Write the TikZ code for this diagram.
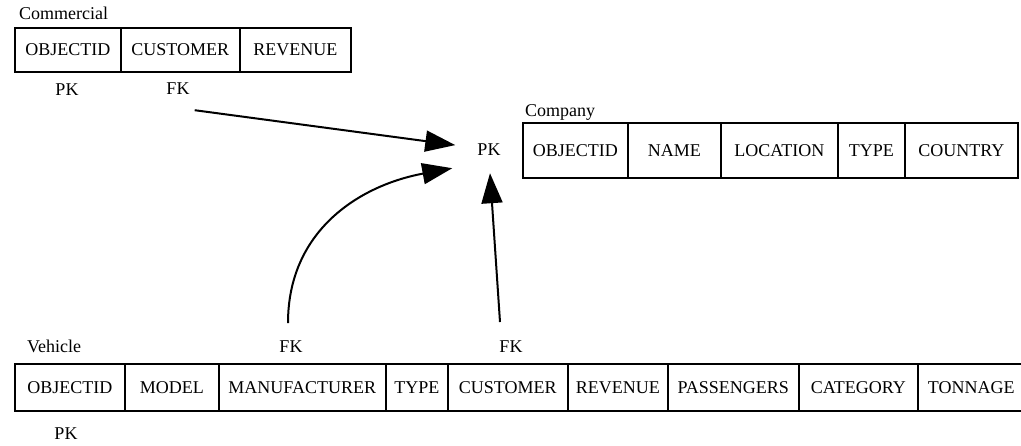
\documentclass[tikz,border=0pt]{standalone}
\usepackage{fontspec}
\setmainfont{Liberation Serif}
\usepackage{tikz}
\usetikzlibrary{arrows.meta}

\begin{document}
\begin{tikzpicture}[x=1pt,y=-1pt,
    font=\fontsize{18}{20}\selectfont,
    cell/.style={draw,line width=1.6pt,inner sep=0pt,anchor=north west,text height=12pt,text depth=0pt,minimum height=#1},
    cell/.default=44,
    keylab/.style={inner sep=0pt,anchor=base},
    tname/.style={inner sep=0pt,anchor=base west},
    fkarrow/.style={line width=2pt,-{Triangle[length=30pt,width=21pt]}}]
					\useasboundingbox (0,0) rectangle (1021,445);

					% Commercial
					\node[tname] (tCom) at (19,19) {Commercial};
					\node[cell,minimum width=106] (cObj) at (14,27) {OBJECTID};
					\node[cell,minimum width=119] (cCust) at (120,27) {CUSTOMER};
					\node[cell,minimum width=111] (cRev) at (239,27) {REVENUE};
					\node[keylab] (pkC) at (67,95) {PK};
					\node[keylab] (fkC) at (178,94) {FK};

					% Company
					\node[tname] (tCo) at (525,116) {Company};
					\node[cell=55,minimum width=105] (coObj) at (522,122) {OBJECTID};
					\node[cell=55,minimum width=93] (coName) at (627,122) {NAME};
					\node[cell=55,minimum width=117] (coLoc) at (720,122) {LOCATION};
					\node[cell=55,minimum width=67] (coType) at (837,122) {TYPE};
					\node[cell=55,minimum width=113] (coCtry) at (904,122) {COUNTRY};
					\node[keylab] (pkCo) at (489,155) {PK};

					% Vehicle
					\node[tname] (tVeh) at (27,352) {Vehicle};
					\node[cell=47,minimum width=110] (vObj) at (14,363) {OBJECTID};
					\node[cell=47,minimum width=94] (vMod) at (124,363) {MODEL};
					\node[cell=47,minimum width=167] (vMan) at (218,363) {MANUFACTURER};
					\node[cell=47,minimum width=62] (vType) at (385,363) {TYPE};
					\node[cell=47,minimum width=120] (vCust) at (447,363) {CUSTOMER};
					\node[cell=47,minimum width=100] (vRev) at (567,363) {REVENUE};
					\node[cell=47,minimum width=131] (vPass) at (667,363) {PASSENGERS};
					\node[cell=47,minimum width=119] (vCat) at (798,363) {CATEGORY};
					\node[cell=47,minimum width=107] (vTon) at (917,363) {TONNAGE};
					\node[keylab] (pkV) at (66,439) {PK};
					\node[keylab] (fkV1) at (291,352) {FK};
					\node[keylab] (fkV2) at (511,352) {FK};

					% foreign keys
					\draw[fkarrow] ([shift={(5,16)}]fkC.south east) -- ([shift={(-22,-4)}]pkCo.west);
					\draw[fkarrow] ([shift={(-3,-17)}]fkV1.north) .. controls +(0,-93) and +(-92,17) .. ([shift={(-25,13)}]pkCo.south west);
					\draw[fkarrow] ([shift={(-11,-18)}]fkV2.north) -- ([shift={(1,18)}]pkCo.south);
				\end{tikzpicture}
\end{document}
